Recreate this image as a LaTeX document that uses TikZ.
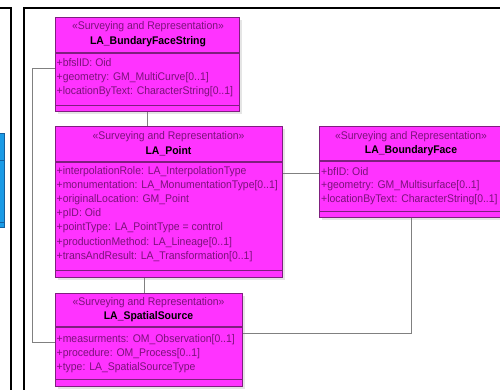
\documentclass[tikz,border=0pt]{standalone}
\usepackage{fontspec}
\setmainfont{Liberation Sans}[FakeStretch=0.94]
\usetikzlibrary{calc,shadows}
\definecolor{mag}{HTML}{FF33FF}
\definecolor{magb}{HTML}{7F1F7F}
\definecolor{purp}{HTML}{7A127A}
\definecolor{bluef}{HTML}{1A9BE6}
\definecolor{blueb}{HTML}{14609E}
\tikzset{
  cls/.style={draw=magb, fill=mag, line width=1.2pt, inner sep=0pt, anchor=north west,
     general shadow={fill=black!10, shadow xshift=2.5pt, shadow yshift=-2.5pt}},
  sep/.style={draw=magb, line width=1.2pt},
  conn/.style={draw=black!50, line width=0.9pt},
  frame/.style={draw=black, line width=1.6pt},
  stereo/.style={inner sep=0pt, text=purp, font=\fontsize{11.1}{13}\selectfont},
  cname/.style={inner sep=0pt, text=black, font=\fontsize{11.1}{13}\selectfont\bfseries},
  attr/.style={inner sep=0pt, anchor=west, text=purp, font=\fontsize{11.1}{13}\selectfont},
}
\begin{document}
\begin{tikzpicture}[x=1pt,y=-1pt]
\useasboundingbox (0,0) rectangle (500,389);
\clip (0,0) rectangle (500,389);
% frames
\draw[frame] (0,8) -- (11,8) -- (11,392);
\draw[frame] (24,392) -- (24,8) -- (503,8);
% blue box (left panel, cut off)
\node[draw=blueb, fill=bluef, line width=1pt, anchor=north west, inner sep=0pt, minimum width=6pt, minimum height=94pt] (blue) at (-2,133) {};
\draw[draw=blueb, line width=1pt] (-2,160) -- (blue.east |- 0,160);
\draw[draw=blueb, line width=1pt] (-2,222) -- (blue.east |- 0,222);
% class boxes
\node[cls, minimum width=184pt, minimum height=94pt] (bfs) at (55,17) {};
\node[cls, minimum width=227pt, minimum height=151pt] (pt) at (55,126) {};
\node[cls, minimum width=187pt, minimum height=93pt] (ss) at (55,293) {};
\node[cls, minimum width=184pt, minimum height=91pt] (bf) at (319,126) {};
% separators
\draw[sep] ([yshift=-36pt]bfs.north west) -- ([yshift=-36pt]bfs.north east);
\draw[sep] ([yshift=7pt]bfs.south west) -- ([yshift=7pt]bfs.south east);
\draw[sep] ([yshift=-36pt]pt.north west) -- ([yshift=-36pt]pt.north east);
\draw[sep] ([yshift=8pt]pt.south west) -- ([yshift=8pt]pt.south east);
\draw[sep] ([yshift=-34pt]ss.north west) -- ([yshift=-34pt]ss.north east);
\draw[sep] ([yshift=8pt]ss.south west) -- ([yshift=8pt]ss.south east);
\draw[sep] ([yshift=-35pt]bf.north west) -- ([yshift=-35pt]bf.north east);
\draw[sep] ([yshift=7pt]bf.south west) -- ([yshift=7pt]bf.south east);
% texts: LA_BundaryFaceString
\node[stereo] (bfsS) at (148,27) {«Surveying and Representation»};
\node[cname] (bfsN) at (148,42) {LA\_BundaryFaceString};
\node[attr] (bfsA1) at (56.5,63) {+bfslID: Oid};
\node[attr] (bfsA2) at (56.5,78) {+geometry: GM\_MultiCurve[0..1]};
\node[attr] (bfsA3) at (56.5,92) {+locationByText: CharacterString[0..1]};
% LA_Point
\node[stereo] (ptS) at (168.5,137) {«Surveying and Representation»};
\node[cname] (ptN) at (168.5,151) {LA\_Point};
\node[attr] (ptA1) at (56.5,172) {+interpolationRole: LA\_InterpolationType};
\node[attr] (ptA2) at (56.5,186) {+monumentation: LA\_MonumentationType[0..1]};
\node[attr] (ptA3) at (56.5,200) {+originalLocation: GM\_Point};
\node[attr] (ptA4) at (56.5,214) {+pID: Oid};
\node[attr] (ptA5) at (56.5,228) {+pointType: LA\_PointType = control};
\node[attr] (ptA6) at (56.5,243) {+productionMethod: LA\_Lineage[0..1]};
\node[attr] (ptA7) at (56.5,257) {+transAndResult: LA\_Transformation[0..1]};
% LA_SpatialSource
\node[stereo] (ssS) at (148.5,303) {«Surveying and Representation»};
\node[cname] (ssN) at (148.5,317) {LA\_SpatialSource};
\node[attr] (ssA1) at (56.5,340) {+measurments: OM\_Observation[0..1]};
\node[attr] (ssA2) at (56.5,354) {+procedure: OM\_Process[0..1]};
\node[attr] (ssA3) at (56.5,368) {+type: LA\_SpatialSourceType};
% LA_BoundaryFace
\node[stereo] (bfS) at (411,137) {«Surveying and Representation»};
\node[cname] (bfN) at (411,151) {LA\_BoundaryFace};
\node[attr] (bfA1) at (321,172) {+bfID: Oid};
\node[attr] (bfA2) at (321,186) {+geometry: GM\_Multisurface[0..1]};
\node[attr] (bfA3) at (321,200) {+locationByText: CharacterString[0..1]};
% connectors
\draw[conn] (bfs.south) -- (bfs.south |- pt.north);
\draw[conn] ([xshift=-4.5pt]ss.north) -- ([xshift=-4.5pt]ss.north |- pt.south);
\draw[conn] ([yshift=-47pt]pt.north east) -- ([yshift=-47pt]bf.north west);
\draw[conn] (bf.south) |- ([yshift=-40pt]ss.north east);
\coordinate (lft) at (32,68);
\draw[conn] ([yshift=-51pt]bfs.north west) -- (lft) |- ([yshift=-49pt]ss.north west);
\end{tikzpicture}
\end{document}
